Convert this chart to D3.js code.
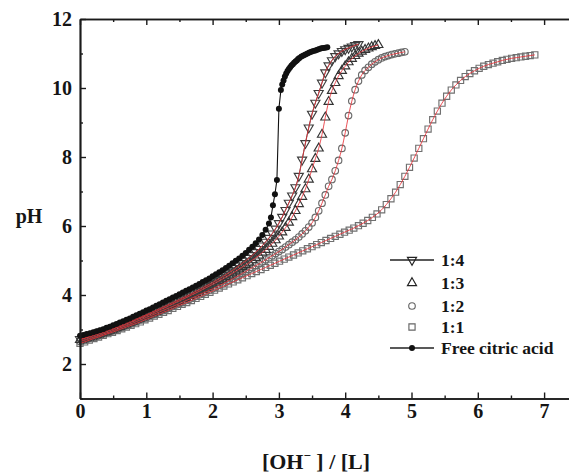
<!DOCTYPE html>
<html><head><meta charset="utf-8">
<script src="https://cdn.jsdelivr.net/npm/d3@7"></script>
<style>body{margin:0;background:#fff}svg{display:block}</style>
</head><body>
<svg id="chart" width="569" height="475"></svg>
<script>
// Axis ticks and legend entries
const xTicks = [0, 1, 2, 3, 4, 5, 6, 7];
const xMinorTicks = [0.5, 1.5, 2.5, 3.5, 4.5, 5.5, 6.5, 7.5];
const yTicks = [2, 4, 6, 8, 10, 12];
const yMinorTicks = [1, 3, 5, 7, 9, 11];
const legendLabels = ["1:4", "1:3", "1:2", "1:1", "Free citric acid"];

// Free citric acid titration: [OH-]/[L] and pH
const freeX = [0.00,0.05,0.10,0.15,0.20,0.25,0.30,0.35,0.40,0.45,0.50,0.55,0.60,0.65,0.70,0.75,0.80,0.85,0.90,0.95,
  1.00,1.05,1.10,1.15,1.20,1.25,1.30,1.35,1.40,1.45,1.50,1.55,1.60,1.65,1.70,1.75,1.80,1.85,1.90,1.95,
  2.00,2.05,2.10,2.15,2.20,2.25,2.30,2.35,2.40,2.45,2.50,2.55,2.60,2.65,2.70,2.75,2.80,2.85,2.88,2.91,
  2.94,2.97,3.00,3.03,3.05,3.07,3.09,3.11,3.13,3.15,3.17,3.19,3.21,3.23,3.25,3.27,3.29,3.31,3.34,3.37,
  3.40,3.43,3.46,3.49,3.52,3.55,3.58,3.61,3.64,3.67,3.70,3.73];
const freePH = [2.82,2.84,2.87,2.89,2.92,2.95,2.98,3.01,3.05,3.08,3.12,3.16,3.20,3.24,3.28,3.32,3.37,3.41,3.46,3.50,
  3.55,3.59,3.64,3.69,3.73,3.78,3.83,3.88,3.93,3.97,4.02,4.07,4.12,4.17,4.22,4.27,4.32,4.38,4.43,4.48,
  4.54,4.60,4.66,4.72,4.78,4.85,4.92,4.99,5.06,5.14,5.22,5.31,5.40,5.50,5.61,5.74,5.89,6.07,6.25,6.60,
  6.92,7.33,9.40,9.94,10.10,10.22,10.33,10.42,10.49,10.55,10.60,10.65,10.69,10.73,10.77,10.80,10.84,10.87,10.91,10.94,
  10.97,11.00,11.03,11.05,11.07,11.09,11.11,11.13,11.15,11.16,11.17,11.18];

// Complexes, equal [OH-]/[L] increments per series
const step14 = 0.05;
const pH14 = [2.72,2.75,2.78,2.81,2.84,2.87,2.90,2.93,2.97,3.00,3.04,3.07,3.11,3.15,3.19,3.23,3.27,3.31,3.35,3.39,
  3.43,3.47,3.52,3.56,3.60,3.65,3.69,3.74,3.78,3.83,3.87,3.92,3.96,4.01,4.06,4.11,4.16,4.21,4.26,4.31,
  4.36,4.42,4.47,4.53,4.59,4.65,4.71,4.78,4.85,4.92,4.99,5.07,5.15,5.24,5.33,5.43,5.54,5.65,5.78,5.92,
  6.08,6.26,6.46,6.67,6.88,7.12,7.45,7.92,8.40,8.85,9.25,9.57,9.85,10.15,10.45,10.65,10.80,10.92,11.00,11.07,
  11.12,11.16,11.20,11.24,11.27];

const step13 = 0.05;
const pH13 = [2.70,2.73,2.76,2.79,2.82,2.85,2.88,2.91,2.94,2.98,3.01,3.05,3.08,3.12,3.16,3.20,3.24,3.28,3.32,3.36,
  3.40,3.44,3.48,3.52,3.57,3.61,3.65,3.70,3.74,3.79,3.83,3.88,3.92,3.97,4.02,4.06,4.11,4.16,4.21,4.26,
  4.31,4.36,4.41,4.46,4.52,4.57,4.63,4.69,4.75,4.81,4.87,4.94,5.01,5.08,5.15,5.23,5.31,5.40,5.49,5.59,
  5.70,5.82,5.95,6.10,6.26,6.44,6.64,6.85,7.07,7.35,7.65,7.95,8.25,8.65,9.15,9.60,9.92,10.15,10.35,10.50,
  10.63,10.75,10.85,10.93,11.00,11.06,11.11,11.15,11.19,11.22,11.25];

const step12 = 0.05;
const pH12 = [2.65,2.68,2.71,2.74,2.77,2.80,2.83,2.87,2.90,2.93,2.97,3.00,3.04,3.08,3.11,3.15,3.19,3.23,3.27,3.31,
  3.35,3.39,3.43,3.47,3.51,3.55,3.59,3.63,3.67,3.71,3.75,3.79,3.84,3.88,3.92,3.96,4.01,4.05,4.09,4.14,
  4.18,4.23,4.28,4.32,4.37,4.42,4.47,4.52,4.57,4.63,4.68,4.74,4.79,4.85,4.90,4.96,5.02,5.08,5.14,5.20,
  5.26,5.32,5.39,5.46,5.53,5.60,5.68,5.77,5.86,5.97,6.09,6.25,6.44,6.66,6.90,7.15,7.35,7.60,7.90,8.25,
  8.70,9.20,9.62,9.95,10.20,10.38,10.51,10.60,10.69,10.76,10.82,10.87,10.91,10.94,10.97,10.99,11.01,11.03,11.05];

const step11 = 0.07;
const pH11 = [2.60,2.64,2.69,2.74,2.78,2.83,2.88,2.92,2.97,3.02,3.07,3.12,3.17,3.22,3.28,3.33,3.39,3.44,3.50,3.55,
  3.61,3.67,3.73,3.78,3.84,3.90,3.96,4.02,4.08,4.14,4.20,4.26,4.32,4.38,4.44,4.50,4.56,4.62,4.68,4.74,
  4.80,4.86,4.92,4.98,5.04,5.10,5.16,5.22,5.28,5.34,5.40,5.46,5.52,5.58,5.64,5.70,5.76,5.82,5.88,5.94,
  6.01,6.08,6.16,6.25,6.35,6.47,6.62,6.79,6.98,7.20,7.44,7.70,7.97,8.25,8.53,8.81,9.08,9.33,9.56,9.76,
  9.94,10.09,10.22,10.33,10.42,10.50,10.57,10.63,10.68,10.72,10.76,10.80,10.83,10.86,10.88,10.90,10.92,10.94,10.96];

const svg = d3.select("#chart");
const plotLeft = 80, plotTop = 19, plotBottom = 398.5;
const font = "'Liberation Serif','Times New Roman',serif";

const x = d3.scaleLinear().domain([0, 7.4]).range([plotLeft, plotLeft + 7.4 * 66.3]);
const y = d3.scaleLinear().domain([1, 12]).range([plotBottom, plotTop]);

const toPoints = (step, arr) => arr.map((p, i) => [i * step, p]);
const series = [
  { pts: toPoints(step14, pH14), shape: "down", color: "#3c3c3c" },
  { pts: toPoints(step13, pH13), shape: "up", color: "#333" },
  { pts: toPoints(step12, pH12), shape: "circle", color: "#6a6a6a" },
  { pts: toPoints(step11, pH11), shape: "square", color: "#707070" }
];
const freePts = freeX.map((v, i) => [v, freePH[i]]);

function symbolPath(shape) {
  if (shape === "circle") return d3.symbol(d3.symbolCircle, 34)();
  if (shape === "square") return d3.symbol(d3.symbolSquare, 38)();
  return d3.symbol(d3.symbolTriangle, 36)();
}
function drawSymbol(g, shape, cx, cy, color) {
  g.append("path")
    .attr("d", symbolPath(shape))
    .attr("transform", `translate(${cx},${cy})` + (shape === "down" ? " rotate(180)" : ""))
    .attr("fill", "none").attr("stroke", color).attr("stroke-width", 1.15);
}

const plot = svg.append("g");
const line = d3.line().x(d => x(d[0])).y(d => y(d[1])).curve(d3.curveMonotoneX);

// Markers of the complexes (drawn back to front)
[...series].reverse().forEach(s => {
  const g = plot.append("g");
  if (s.shape === "down") {
    g.append("path").attr("d", line(s.pts)).attr("fill", "none").attr("stroke", "#222").attr("stroke-width", 0.9);
  }
  s.pts.forEach(d => drawSymbol(g, s.shape, x(d[0]), y(d[1]), s.color));
});

// Fitted curves
series.forEach(s => {
  plot.append("path").attr("d", line(s.pts)).attr("fill", "none")
    .attr("stroke", "#e8333a").attr("stroke-width", 1).attr("opacity", 0.85);
});

// Free citric acid
plot.append("path").attr("d", d3.line().x(d => x(d[0])).y(d => y(d[1]))(freePts))
  .attr("fill", "none").attr("stroke", "#111").attr("stroke-width", 1.1);
plot.selectAll("circle.free").data(freePts).join("circle")
  .attr("class", "free").attr("cx", d => x(d[0])).attr("cy", d => y(d[1]))
  .attr("r", 3).attr("fill", "#111");

// Axes with inward ticks
const axisG = svg.append("g").attr("font-family", font);
function styleAxis(g) {
  g.select(".domain").attr("stroke", "#1a1a1a").attr("stroke-width", 1.7);
  g.selectAll(".tick line").attr("stroke", "#1a1a1a").attr("stroke-width", 1.4);
  g.selectAll(".tick text").attr("fill", "#151515").attr("font-size", 20).attr("font-weight", "bold").attr("font-family", font);
}
axisG.append("g").attr("transform", `translate(0,${plotBottom})`)
  .call(d3.axisBottom(x).tickValues(xTicks).tickSizeInner(-6).tickSizeOuter(0).tickPadding(5).tickFormat(d3.format("d")))
  .call(styleAxis);
axisG.append("g").attr("transform", `translate(0,${plotBottom})`)
  .call(d3.axisBottom(x).tickValues(xMinorTicks).tickSizeInner(-3).tickSizeOuter(0).tickFormat(""))
  .call(styleAxis);
axisG.append("g").attr("transform", `translate(0,${plotTop})`)
  .call(d3.axisTop(x).tickValues(xTicks).tickSizeInner(-6).tickSizeOuter(0).tickFormat(""))
  .call(styleAxis);
axisG.append("g").attr("transform", `translate(0,${plotTop})`)
  .call(d3.axisTop(x).tickValues(xMinorTicks).tickSizeInner(-3).tickSizeOuter(0).tickFormat(""))
  .call(styleAxis);
axisG.append("g").attr("transform", `translate(${plotLeft},0)`)
  .call(d3.axisLeft(y).tickValues(yTicks).tickSizeInner(-6).tickSizeOuter(0).tickPadding(8).tickFormat(d3.format("d")))
  .call(styleAxis);
axisG.append("g").attr("transform", `translate(${plotLeft},0)`)
  .call(d3.axisLeft(y).tickValues(yMinorTicks).tickSizeInner(-3).tickSizeOuter(0).tickFormat(""))
  .call(styleAxis);

// Axis titles
svg.append("text").attr("x", 29).attr("y", 223).attr("text-anchor", "middle")
  .attr("font-family", font).attr("font-size", 20).attr("font-weight", "bold").attr("fill", "#151515")
  .text("pH");
const xt = svg.append("text").attr("x", 316).attr("y", 469).attr("text-anchor", "middle")
  .attr("font-family", font).attr("font-size", 22).attr("font-weight", "bold").attr("fill", "#151515");
xt.append("tspan").text("[OH");
xt.append("tspan").attr("dy", -9).attr("font-size", 13).text("\u2212");
xt.append("tspan").attr("dy", 9).text(" ] / [L]");

// Legend
const legY = [260, 283, 306, 327, 348];
const lg = svg.append("g");
const legShapes = ["down", "up", "circle", "square"];
legendLabels.forEach((lab, i) => {
  const cy = legY[i];
  if (i === 0 || i === 4) {
    lg.append("line").attr("x1", 390).attr("x2", 434).attr("y1", cy).attr("y2", cy)
      .attr("stroke", "#222").attr("stroke-width", 1.3);
  }
  if (i < 4) {
    drawSymbol(lg, legShapes[i], 412, cy, i < 2 ? "#222" : "#666");
  } else {
    lg.append("circle").attr("cx", 412).attr("cy", cy).attr("r", 3).attr("fill", "#111");
  }
  lg.append("text").attr("x", 441).attr("y", cy + 6)
    .attr("font-family", font).attr("font-size", 17.5).attr("font-weight", "bold").attr("fill", "#151515")
    .text(lab);
});
</script>
</body></html>
